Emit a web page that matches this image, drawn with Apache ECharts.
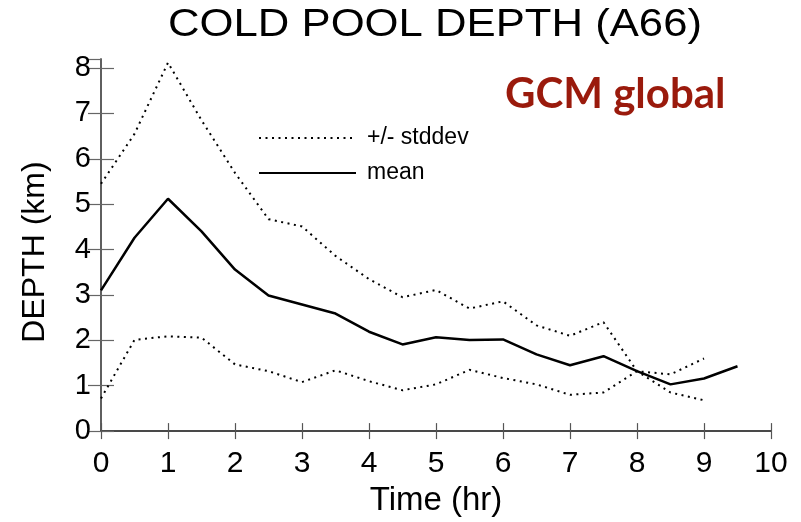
<!DOCTYPE html>
<html>
<head>
<meta charset="utf-8">
<script src="https://cdn.jsdelivr.net/npm/echarts@6/dist/echarts.min.js"></script>
<style>
html,body{margin:0;padding:0;background:#fff;}
#chart{width:801px;height:522px;}
</style>
</head>
<body>
<div id="chart"></div>
<script>
// Data
var timeHr = [0, 0.5, 1, 1.5, 2, 2.5, 3, 3.5, 4, 4.5, 5, 5.5, 6, 6.5, 7, 7.5, 8, 8.5, 9, 9.5];
var meanDepth = [3.1, 4.26, 5.12, 4.4, 3.56, 2.99, 2.79, 2.59, 2.19, 1.91, 2.07, 2.01, 2.02, 1.69, 1.45, 1.65, 1.32, 1.03, 1.16, 1.43];
var upperDepth = [5.45, 6.55, 8.12, 6.85, 5.69, 4.67, 4.51, 3.86, 3.35, 2.95, 3.11, 2.7, 2.86, 2.33, 2.1, 2.4, 1.32, 0.85, 0.68];
var lowerDepth = [0.72, 2.01, 2.09, 2.06, 1.47, 1.32, 1.08, 1.34, 1.1, 0.9, 1.03, 1.35, 1.17, 1.03, 0.8, 0.85, 1.32, 1.25, 1.6];
var xTicks = [0, 1, 2, 3, 4, 5, 6, 7, 8, 9, 10];
var yTicks = [0, 1, 2, 3, 4, 5, 6, 7, 8];
var titleText = 'COLD POOL DEPTH (A66)';
var tagText = 'GCM global';

function pairs(xs, ys) {
  var out = [];
  for (var i = 0; i < ys.length; i++) out.push([xs[i], ys[i]]);
  return out;
}

var FONT = 'Liberation Sans';
var chart = echarts.init(document.getElementById('chart'), null, {renderer: 'canvas'});

var dotted = {color: '#000', width: 2, type: [2, 4.5]};

var option = {
  animation: false,
  backgroundColor: '#fff',
  title: [
    {
      text: tagText,
      left: 500, top: 68,
      textStyle: {fontFamily: 'Lato', fontSize: 42, fontWeight: 'bold', color: '#9a1a0c'}
    }
  ],
  graphic: [
    {
      type: 'text', x: 435, y: 25, scaleX: 1.12,
      style: {text: titleText, font: '39px "Liberation Sans"', fill: '#000', align: 'center', verticalAlign: 'middle'}
    }
  ],
  legend: {
    orient: 'vertical',
    left: 253, top: 121,
    itemWidth: 97, itemHeight: 12, itemGap: 11,
    data: ['+/- stddev', 'mean'],
    itemStyle: {opacity: 0},
    textStyle: {fontFamily: FONT, fontSize: 23, color: '#000', lineHeight: 24, padding: [0, 0, 0, 6]},
    selectedMode: false
  },
  grid: {left: 101, right: 30, top: 59, bottom: 90, containLabel: false},
  xAxis: [
    {
      type: 'value', min: 0, max: 10, interval: 1, position: 'bottom',
      name: 'Time (hr)', nameLocation: 'middle', nameGap: 40,
      nameTextStyle: {fontFamily: FONT, fontSize: 33, color: '#000'},
      axisLine: {show: true, lineStyle: {color: '#222', width: 1.5}},
      axisTick: {show: true, inside: false, length: -8, lineStyle: {color: '#555', width: 1.2}},
      axisLabel: {fontFamily: FONT, fontSize: 30, color: '#000', margin: 18,
        formatter: function (v) { return xTicks.indexOf(v) >= 0 ? String(v) : ''; }},
      splitLine: {show: false}
    },
    {
      type: 'value', min: 0, max: 10, interval: 1, position: 'top',
      axisLine: {show: true, lineStyle: {color: '#444', width: 1.5}},
      axisTick: {show: true, inside: false, length: -8, lineStyle: {color: '#555', width: 1.2}},
      axisLabel: {show: false},
      splitLine: {show: false}
    }
  ],
  yAxis: [
    {
      type: 'value', min: 0, max: 8.2, interval: 1, position: 'left',
      name: 'DEPTH (km)', nameLocation: 'middle', nameGap: 50,
      nameTextStyle: {fontFamily: FONT, fontSize: 32, color: '#000', padding: [0, 14, 0, 0]},
      axisLine: {show: true, lineStyle: {color: '#555', width: 1.5}},
      axisTick: {show: true, inside: false, length: -13, lineStyle: {color: '#666', width: 1.2}},
      axisLabel: {fontFamily: FONT, fontSize: 29, color: '#000', margin: 10, showMaxLabel: false,
        formatter: function (v) { return yTicks.indexOf(v) >= 0 ? String(v) : ''; }},
      splitLine: {show: false}
    },
    {
      type: 'value', min: 0, max: 8.2, interval: 1, position: 'right',
      axisLine: {show: true, lineStyle: {color: '#555', width: 1.5}},
      axisTick: {show: true, inside: false, length: -13, lineStyle: {color: '#666', width: 1.2}},
      axisLabel: {show: false},
      splitLine: {show: false}
    }
  ],
  series: [
    {
      name: '+/- stddev', type: 'line', xAxisIndex: 0, yAxisIndex: 0,
      data: pairs(timeHr, upperDepth), showSymbol: false, symbol: 'none',
      lineStyle: dotted, itemStyle: {color: '#000'}
    },
    {
      name: '+/- stddev', type: 'line', xAxisIndex: 0, yAxisIndex: 0,
      data: pairs(timeHr, lowerDepth), showSymbol: false, symbol: 'none',
      lineStyle: dotted, itemStyle: {color: '#000'}
    },
    {
      name: 'mean', type: 'line', xAxisIndex: 0, yAxisIndex: 0,
      data: pairs(timeHr, meanDepth), showSymbol: false, symbol: 'none',
      lineStyle: {color: '#000', width: 2.5, type: 'solid'}, itemStyle: {color: '#000'}
    }
  ]
};
chart.setOption(option);
</script>
</body>
</html>
